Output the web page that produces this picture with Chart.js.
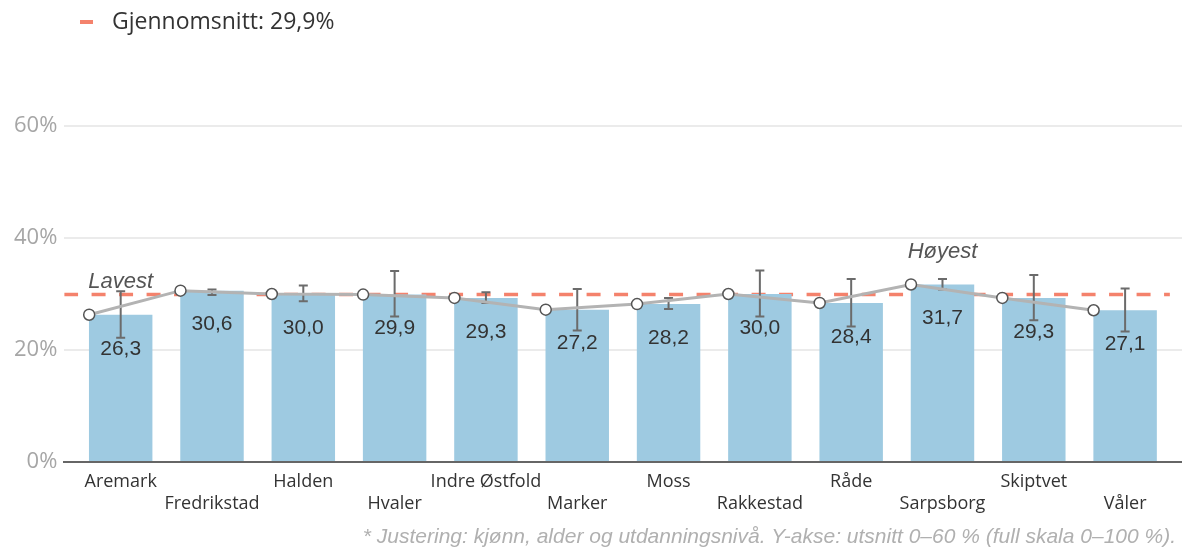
<!DOCTYPE html>
<html lang="no">
<head>
<meta charset="UTF-8">
<title>Gjennomsnitt per kommune</title>
<script src="https://cdn.jsdelivr.net/npm/chart.js@4.4.1/dist/chart.umd.min.js"></script>
<style>
  html, body { margin: 0; padding: 0; background: #fff; }
  #wrap { width: 1182px; height: 549px; position: relative; }
</style>
</head>
<body>
<div id="wrap"><canvas id="chart"></canvas></div>
<script>
// data
const kommuner = ['Aremark', 'Fredrikstad', 'Halden', 'Hvaler', 'Indre Østfold', 'Marker',
  'Moss', 'Rakkestad', 'Råde', 'Sarpsborg', 'Skiptvet', 'Våler'];
const andel = [26.3, 30.6, 30.0, 29.9, 29.3, 27.2, 28.2, 30.0, 28.4, 31.7, 29.3, 27.1];
const feilLav = [22.2, 29.8, 28.7, 26.0, 28.4, 23.5, 27.3, 26.0, 24.2, 30.8, 25.3, 23.3];
const feilHoy = [30.5, 30.8, 31.5, 34.1, 30.3, 30.9, 29.3, 34.2, 32.7, 32.7, 33.4, 31.0];
const snitt = 29.9;
const yTicks = [0, 20, 40, 60];
const footnote = '* Justering: kjønn, alder og utdanningsnivå. Y-akse: utsnitt 0–60 % (full skala 0–100 %).';

const fmt = v => v.toFixed(1).replace('.', ',');
const RED = '#f4826c';
const BAR = '#9ecae1';

const idxMin = andel.indexOf(Math.min(...andel));
const idxMax = andel.indexOf(Math.max(...andel));

// error bars + value labels, drawn right after the bars
const barExtras = {
  id: 'barExtras',
  afterDatasetDraw(chart, args) {
    if (args.index !== 1) return;
    const { ctx, scales: { x, y } } = chart;
    ctx.save();
    ctx.strokeStyle = '#6b6b6b';
    ctx.lineWidth = 2;
    andel.forEach((v, i) => {
      const px = x.getPixelForValue(i);
      const top = y.getPixelForValue(feilHoy[i]);
      const bot = y.getPixelForValue(feilLav[i]);
      ctx.beginPath();
      ctx.moveTo(px, top); ctx.lineTo(px, bot);
      ctx.moveTo(px - 4.5, top); ctx.lineTo(px + 4.5, top);
      ctx.moveTo(px - 4.5, bot); ctx.lineTo(px + 4.5, bot);
      ctx.stroke();
    });
    ctx.fillStyle = '#333';
    ctx.font = '21px "Liberation Sans", Arial, sans-serif';
    ctx.textAlign = 'center';
    ctx.textBaseline = 'middle';
    andel.forEach((v, i) => {
      ctx.fillText(fmt(v), x.getPixelForValue(i), y.getPixelForValue(v) + 34);
    });
    ctx.restore();
  }
};

// legend, Lavest/Høyest notes and footnote
const notes = {
  id: 'notes',
  afterDraw(chart) {
    const { ctx, scales: { x, y } } = chart;
    ctx.save();
    // legend
    ctx.strokeStyle = RED;
    ctx.lineWidth = 4;
    ctx.beginPath();
    ctx.moveTo(80, 22); ctx.lineTo(93, 22);
    ctx.stroke();
    ctx.fillStyle = '#333';
    ctx.font = '23px "Open Sans", sans-serif';
    ctx.textAlign = 'left';
    ctx.textBaseline = 'middle';
    ctx.fillText('Gjennomsnitt: ' + fmt(snitt) + '%', 112, 22);

    // lowest / highest
    ctx.fillStyle = '#555';
    ctx.font = 'italic 22px "Liberation Sans", Arial, sans-serif';
    ctx.textAlign = 'center';
    ctx.fillText('Lavest', x.getPixelForValue(idxMin), y.getPixelForValue(andel[idxMin]) - 33);
    ctx.fillText('Høyest', x.getPixelForValue(idxMax), y.getPixelForValue(andel[idxMax]) - 33);

    // footnote
    ctx.fillStyle = '#b0b0b0';
    ctx.font = 'italic 21px "Liberation Sans", Arial, sans-serif';
    ctx.textAlign = 'right';
    ctx.fillText(footnote, 1176, 537);
    ctx.restore();
  }
};

new Chart(document.getElementById('chart'), {
  data: {
    datasets: [
      {
        type: 'line',
        label: 'Andel',
        data: andel.map((v, i) => ({ x: i - 0.345, y: v })),
        borderColor: '#b3b3b3',
        borderWidth: 3,
        pointRadius: 5.5,
        pointBackgroundColor: '#fff',
        pointBorderColor: '#555',
        pointBorderWidth: 1.5,
        order: 0
      },
      {
        type: 'bar',
        label: 'Justert',
        data: andel.map((v, i) => ({ x: i, y: v })),
        backgroundColor: BAR,
        categoryPercentage: 1,
        barPercentage: 0.695,
        order: 1
      },
      {
        type: 'line',
        label: 'Gjennomsnitt',
        data: [{ x: -0.62, y: snitt }, { x: 11.49, y: snitt }],
        borderColor: RED,
        borderWidth: 3.5,
        borderDash: [14, 13.5],
        pointRadius: 0,
        order: 2
      }
    ]
  },
  options: {
    responsive: true,
    maintainAspectRatio: false,
    animation: false,
    layout: { autoPadding: false, padding: { top: 126, left: 7, right: 0, bottom: 33 } },
    plugins: {
      legend: { display: false },
      tooltip: { enabled: false }
    },
    scales: {
      x: {
        type: 'linear',
        offset: false,
        min: -0.617,
        max: 11.623,
        afterBuildTicks: s => { s.ticks = kommuner.map((_, i) => ({ value: i })); },
        afterFit: s => { s.paddingLeft = 0; s.paddingRight = 0; },
        grid: { display: false },
        border: { display: true, color: '#666', width: 2 },
        ticks: {
          autoSkip: false,
          maxRotation: 0,
          padding: 1,
          color: '#333',
          font: { family: '"Open Sans", sans-serif', size: 18, lineHeight: '22px' },
          callback: v => (v % 2 === 1 ? ['', kommuner[v]] : kommuner[v])
        }
      },
      y: {
        min: 0,
        max: 60,
        afterBuildTicks: s => { s.ticks = yTicks.map(v => ({ value: v })); },
        grid: { color: '#ebebeb', lineWidth: 2, drawTicks: false },
        border: { display: false },
        ticks: {
          padding: 7,
          color: '#a6a6a6',
          font: { family: '"Open Sans", sans-serif', size: 22 },
          callback: v => v + '%'
        }
      }
    }
  },
  plugins: [barExtras, notes]
});
</script>
</body>
</html>
